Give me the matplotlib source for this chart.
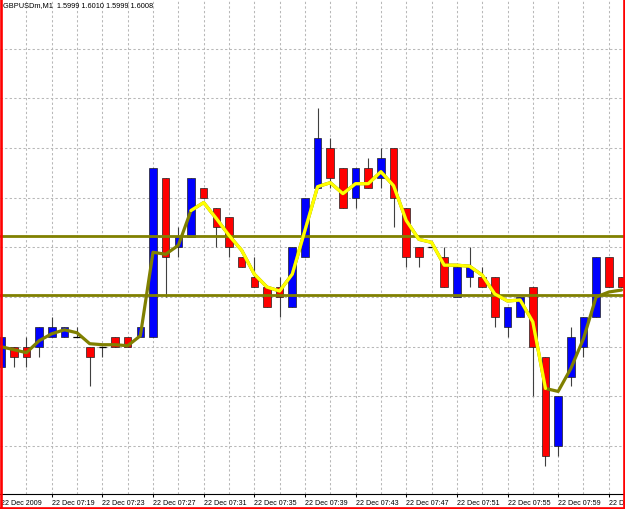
import matplotlib
matplotlib.use("Agg")
import matplotlib.pyplot as plt
from matplotlib import font_manager
from matplotlib.lines import Line2D
import numpy as np

# ── data: GBPUSDm M1, 22 Dec 2009 07:15 .. 08:04 ──
opens = [1.5993, 1.5995, 1.5995, 1.5995, 1.5996, 1.5996, 1.5996, 1.5995, 1.5995, 1.5996,
         1.5996, 1.5996, 1.5996, 1.6012, 1.6005, 1.6006, 1.6011, 1.6009, 1.6008, 1.6004,
         1.6002, 1.6001, 1.6001, 1.5999, 1.6004, 1.6011, 1.6015, 1.6013, 1.6010, 1.6013,
         1.6012, 1.6015, 1.6009, 1.6005, 1.6005, 1.6004, 1.6000, 1.6002, 1.6002, 1.6002,
         1.5997, 1.5998, 1.6001, 1.5994, 1.5985, 1.5992, 1.5995, 1.5998, 1.6004, 1.6002]
highs = [1.5996, 1.5995, 1.5996, 1.5997, 1.5998, 1.5997, 1.5997, 1.5995, 1.5995, 1.5996,
         1.5996, 1.5997, 1.6013, 1.6012, 1.6007, 1.6012, 1.6011, 1.6009, 1.6008, 1.6004,
         1.6004, 1.6001, 1.6002, 1.6005, 1.6010, 1.6019, 1.6016, 1.6013, 1.6013, 1.6014,
         1.6015, 1.6015, 1.6009, 1.6005, 1.6005, 1.6005, 1.6003, 1.6005, 1.6003, 1.6002,
         1.5999, 1.6000, 1.6001, 1.5994, 1.5990, 1.5997, 1.5998, 1.6004, 1.6004, 1.6002]
lows = [1.5993, 1.5993, 1.5993, 1.5994, 1.5996, 1.5996, 1.5996, 1.5991, 1.5994, 1.5995,
        1.5995, 1.5996, 1.5996, 1.6000, 1.6004, 1.6006, 1.6010, 1.6005, 1.6004, 1.6003,
        1.6001, 1.5999, 1.5998, 1.5999, 1.6004, 1.6011, 1.6011, 1.6009, 1.6009, 1.6011,
        1.6011, 1.6007, 1.6003, 1.6003, 1.6005, 1.6001, 1.6000, 1.6001, 1.6001, 1.5997,
        1.5996, 1.5998, 1.5990, 1.5983, 1.5984, 1.5991, 1.5994, 1.5998, 1.6001, 1.6001]
closes = [1.5996, 1.5994, 1.5994, 1.5997, 1.5997, 1.5997, 1.5996, 1.5994, 1.5995, 1.5995,
          1.5995, 1.5997, 1.6013, 1.6004, 1.6006, 1.6012, 1.6010, 1.6007, 1.6005, 1.6003,
          1.6001, 1.5999, 1.6000, 1.6005, 1.6010, 1.6016, 1.6012, 1.6009, 1.6013, 1.6011,
          1.6014, 1.6010, 1.6004, 1.6004, 1.6005, 1.6001, 1.6003, 1.6003, 1.6001, 1.5998,
          1.5999, 1.6000, 1.5995, 1.5984, 1.5990, 1.5996, 1.5998, 1.6004, 1.6001, 1.6001]
ma_line = [1.59950, 1.59947, 1.59944, 1.59956, 1.59963, 1.59967, 1.59964, 1.59953, 1.59952, 1.59952,
           1.59951, 1.59961, 1.60045, 1.60043, 1.60052, 1.60087, 1.60095, 1.60079, 1.60062, 1.60047,
           1.60023, 1.60010, 1.60006, 1.60023, 1.60067, 1.60111, 1.60115, 1.60104, 1.60114, 1.60114,
           1.60126, 1.60112, 1.60077, 1.60058, 1.60055, 1.60032, 1.60032, 1.60031, 1.60022, 1.60003,
           1.59996, 1.59997, 1.59975, 1.59908, 1.59905, 1.59928, 1.59958, 1.60000, 1.60005, 1.60007]
yellow_from, yellow_to = 15, 43
levels = [1.60061, 1.60002]

tick_idx = [0, 4, 8, 12, 16, 20, 24, 28, 32, 36, 40, 44, 48]
tick_labels = ["22 Dec 2009", "22 Dec 07:19", "22 Dec 07:23", "22 Dec 07:27",
               "22 Dec 07:31", "22 Dec 07:35", "22 Dec 07:39", "22 Dec 07:43",
               "22 Dec 07:47", "22 Dec 07:51", "22 Dec 07:55", "22 Dec 07:59",
               "22 Dec 08:03"]
header = "GBPUSDm,M1  1.5999 1.6010 1.5999 1.6008"

# ── fonts ──
names = {f.name for f in font_manager.fontManager.ttflist}
if "Liberation Sans Narrow" in names:
    FONT, LBL_SIZE, HDR_SIZE = "Liberation Sans Narrow", 5.8, 6.3
else:
    FONT, LBL_SIZE, HDR_SIZE = "Liberation Sans", 5.1, 5.3
plt.rcParams["font.family"] = [FONT, "DejaVu Sans"]

BULL = "#0000FF"
BEAR = "#FF0000"
OLIVE = "#808000"
YELLOW = "#FFFF00"
GRID = "#b8b8b8"

fig = plt.figure(figsize=(6.25, 5.10), dpi=100)
fig.patch.set_facecolor("white")
ax = fig.add_axes([0, 15 / 510, 1, 495 / 510])
ax.set_facecolor("white")

x = np.arange(len(opens))
o = np.array(opens)
h = np.array(highs)
l = np.array(lows)
c = np.array(closes)

# grid
for k in range(0, len(x), 2):
    ax.axvline(k, color=GRID, linewidth=0.75, linestyle=(0, (2.2, 2.2)), zorder=0)
for p in np.arange(1.5985, 1.60251, 0.0005):
    ax.axhline(p, color=GRID, linewidth=0.75, linestyle=(0, (2.2, 2.2)), zorder=0)

# wicks
ax.vlines(x, l, h, color="#404040", linewidth=0.8, zorder=2)

# bodies
colors = np.where(c > o, BULL, BEAR)
bottoms = np.minimum(o, c)
heights = np.abs(c - o)
ax.bar(x, heights, bottom=bottoms, width=0.6, color=colors,
       edgecolor="#202020", linewidth=0.5, zorder=3)
doji = c == o
ax.hlines(o[doji], x[doji] - 0.3, x[doji] + 0.3, color="black", linewidth=0.9, zorder=3)

# levels
for lv in levels:
    ax.axhline(lv, color=OLIVE, linewidth=2.0, zorder=4)

# moving average
ma = np.array(ma_line)
ax.plot(x, ma, color=OLIVE, linewidth=2.3, solid_joinstyle="round",
        solid_capstyle="round", zorder=5)
seg = slice(yellow_from, yellow_to + 1)
ax.plot(x[seg], ma[seg], color=YELLOW, linewidth=2.3, solid_joinstyle="round",
        solid_capstyle="round", zorder=6)

ax.set_xlim((0 - 1.1) / 12.66, (625 - 1.1) / 12.66)
ax.set_ylim(1.6000 - 197 / 9.94 * 0.0001, 1.6000 + 298 / 9.94 * 0.0001)

for side in ["top", "left", "right"]:
    ax.spines[side].set_visible(False)
ax.spines["bottom"].set_color("black")
ax.spines["bottom"].set_linewidth(0.8)
ax.set_yticks([])
ax.set_xticks(tick_idx)
ax.set_xticklabels(tick_labels, fontsize=LBL_SIZE)
for lab in ax.get_xticklabels():
    lab.set_horizontalalignment("left")
ax.tick_params(axis="x", direction="out", length=2.2, width=0.75, pad=1.2,
               colors="black")

ax.text(3 / 625, 1 - 2 / 495, header, transform=ax.transAxes, fontsize=HDR_SIZE,
        ha="left", va="top", color="black", zorder=7)

# red frame
for xs, ys in [([1 / 625, 1 / 625], [0, 1]),
               ([623.5 / 625, 623.5 / 625], [0, 1]),
               ([0, 1], [1.2 / 510, 1.2 / 510])]:
    fig.add_artist(Line2D(xs, ys, transform=fig.transFigure, color="#FF0000",
                          linewidth=1.9, zorder=10))

fig.savefig("out.png", dpi=100, facecolor="white")
